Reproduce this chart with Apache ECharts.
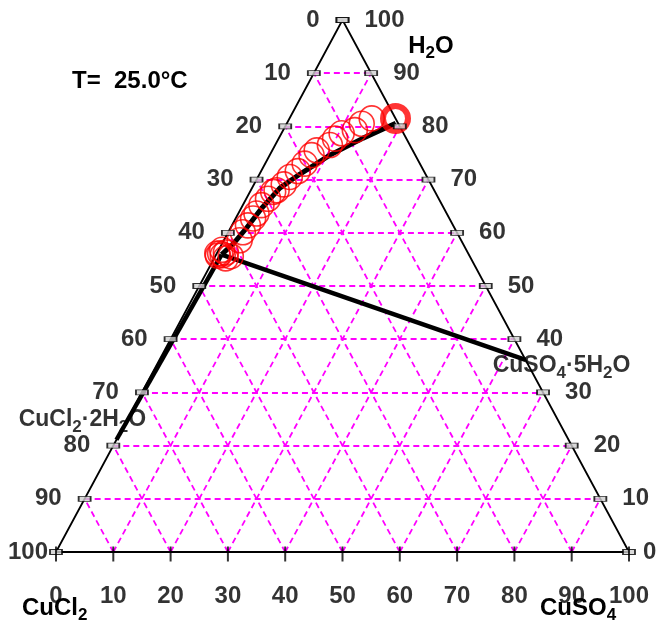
<!DOCTYPE html>
<html>
<head>
<meta charset="utf-8">
<script src="https://cdn.jsdelivr.net/npm/echarts/dist/echarts.min.js"></script>
<style>
html,body{margin:0;padding:0;background:#fff;}
#c{width:662px;height:630px;}
</style>
</head>
<body>
<div id="c"></div>
<script>
// ---------------- data ----------------
const tickValues = [0, 10, 20, 30, 40, 50, 60, 70, 80, 90, 100];
const bottomTickLabels = ['0', '10', '20', '30', '40', '50', '60', '70', '80', '90', '100']; // CuSO4 wt%
const leftTickLabels = ['0', '10', '20', '30', '40', '50', '60', '70', '80', '90', '100'];   // CuCl2 wt% (left edge)
const rightTickLabels = ['0', '10', '20', '30', '40', '50', '60', '70', '80', '90', '100'];  // H2O wt% (right edge)

// experimental saturated solutions (wt%)
const expCuCl2 = [4.15, 6.4, 8.2, 10.8, 12.45, 13.95, 16.75, 18.1, 20.1, 22.0, 23.95, 25.7, 27.5, 28.25, 29.8, 31.55, 33.2, 34.25, 35.8, 37.35, 38.65, 43.8, 43.3, 42.6, 42.2, 41.7, 43.0, 43.9, 42.8];
const expCuSO4 = [14.35, 13.1, 12.5, 10.5, 9.85, 9.55, 7.75, 7.3, 6.9, 6.4, 5.55, 5.2, 4.5, 4.05, 3.8, 3.25, 3.17, 3.05, 2.8, 2.55, 2.75, 0.1, 0.6, 0.6, 1.5, 2.7, 1.2, 0.4, 2.0];

// binary CuSO4-H2O solubility
const binCuCl2 = [0];
const binCuSO4 = [18.5];

// solubility curve (CuSO4·5H2O branch)
const curveCuCl2 = [0.4, 7.5, 14.9, 21.9, 26.75, 31.8, 36.3, 39.7, 43.15];
const curveCuSO4 = [19.0, 14.7, 10.5, 7.06, 4.85, 3.58, 2.8, 2.07, 0.95];

// solid phases
const solidNames = ['CuCl2·2H2O', 'CuSO4·5H2O'];
const solidCuCl2 = [78.9, 0];
const solidCuSO4 = [0, 63.9];

const vertexNames = ['H2O', 'CuCl2', 'CuSO4'];
const tempText = 'T=  25.0°C';

// ---------------- helpers ----------------
const FONT = '"Liberation Sans", Arial, sans-serif';
function tern(c, s) { const h = 100 - c - s; return [s + h / 2, h]; }
function fml(str) {
  const parts = str.split(/(?<=[A-Za-z])(\d+)/);
  let out = '';
  parts.forEach((p, i) => { if (p === '') return; out += (i % 2 ? '{s|' : '{n|') + p + '}'; });
  return out;
}
const noBorder = { textBorderWidth: 0, textBorderColor: 'transparent', textShadowBlur: 0 };
const richLabel = {
  n: Object.assign({ fontSize: 23, fontWeight: 'bold', fontFamily: FONT, color: '#000', lineHeight: 32 }, noBorder),
  s: Object.assign({ fontSize: 17, fontWeight: 'bold', fontFamily: FONT, color: '#000', lineHeight: 17, verticalAlign: 'bottom' }, noBorder)
};
const richGraphic = {
  n: { fontSize: 24, fontWeight: 'bold', fontFamily: FONT, fill: '#000', lineHeight: 32 },
  s: { fontSize: 17, fontWeight: 'bold', fontFamily: FONT, fill: '#000', lineHeight: 17, verticalAlign: 'bottom' }
};
const tickFont = Object.assign({ color: '#000', fontSize: 24, fontWeight: 'bold', fontFamily: FONT }, noBorder);

// grid lines
const gridLines = [];
tickValues.forEach(v => {
  if (v === 0 || v === 100) return;
  gridLines.push({ coords: [tern(100 - v, 0), tern(0, 100 - v)] });   // constant H2O
  gridLines.push({ coords: [tern(100 - v, v), tern(0, v)] });         // constant CuSO4
  gridLines.push({ coords: [tern(v, 100 - v), tern(v, 0)] });         // constant CuCl2
});

const inv = [curveCuCl2[curveCuCl2.length - 1], curveCuSO4[curveCuSO4.length - 1]];

const series = [
  {
    type: 'lines', coordinateSystem: 'cartesian2d', silent: true, z: 1,
    lineStyle: { color: '#ff00ff', width: 1.8, type: [6, 4], opacity: 1 },
    data: gridLines
  },
  {
    type: 'line', silent: true, z: 2, symbol: 'none',
    lineStyle: { color: '#000', width: 1.8 },
    data: [tern(100, 0), tern(0, 100), tern(0, 0), tern(100, 0)]
  },
  {
    type: 'line', silent: true, z: 3, symbol: 'none',
    lineStyle: { color: '#000', width: 5 },
    data: curveCuCl2.map((c, i) => tern(c, curveCuSO4[i]))
  }
];
solidNames.forEach((nm, i) => {
  series.push({
    type: 'line', silent: true, z: 3, symbol: 'none',
    lineStyle: { color: '#000', width: 4.5 },
    data: [tern(inv[0], inv[1]), tern(solidCuCl2[i], solidCuSO4[i])]
  });
});
series.push({
  type: 'scatter', silent: true, z: 5, symbol: 'circle', symbolSize: 25,
  itemStyle: { color: 'rgba(0,0,0,0)', borderColor: '#ff0000', borderWidth: 1.6 },
  data: expCuCl2.map((c, i) => tern(c, expCuSO4[i]))
});
series.push({
  type: 'scatter', silent: true, z: 5, symbol: 'circle', symbolSize: 25,
  itemStyle: { color: 'rgba(0,0,0,0)', borderColor: '#ff0000', borderWidth: 6 },
  data: binCuCl2.map((c, i) => tern(c, binCuSO4[i]))
});
// solid phase labels
const solidOffsets = [[-34, -20], [36, 6]];
series.push({
  type: 'scatter', silent: true, z: 6, symbolSize: 1,
  itemStyle: { color: 'rgba(0,0,0,0)' },
  data: solidNames.map((nm, i) => ({
    name: nm, value: tern(solidCuCl2[i], solidCuSO4[i]),
    label: { offset: solidOffsets[i] }
  })),
  label: Object.assign({ show: true, position: 'inside', align: 'center', verticalAlign: 'middle', color: '#000', formatter: p => fml(p.name), rich: richLabel }, noBorder)
});
// left ticks (CuCl2)
series.push({
  type: 'scatter', silent: true, z: 7, symbol: 'rect', symbolSize: [12, 5],
  itemStyle: { color: '#cfcfcf', borderColor: '#000', borderWidth: 1.2 },
  data: tickValues.map((v, i) => ({
    name: leftTickLabels[i], value: tern(v, 0),
    label: v === 100 ? { offset: [-8, 0] } : undefined
  })),
  label: Object.assign({ show: true, position: 'inside', align: 'right', verticalAlign: 'middle', offset: [-23, 0], formatter: '{b}' }, tickFont)
});
// right ticks (H2O)
series.push({
  type: 'scatter', silent: true, z: 7, symbol: 'rect', symbolSize: [12, 5],
  itemStyle: { color: '#cfcfcf', borderColor: '#000', borderWidth: 1.2 },
  data: tickValues.map((v, i) => ({
    name: rightTickLabels[i], value: tern(0, 100 - v),
    label: v === 0 ? { offset: [14, 0] } : undefined
  })),
  label: Object.assign({ show: true, position: 'inside', align: 'left', verticalAlign: 'middle', offset: [22, 0], formatter: '{b}' }, tickFont)
});
// bottom ticks (CuSO4)
series.push({
  type: 'scatter', silent: true, z: 7, symbol: 'rect', symbolSize: [2, 15], symbolOffset: [0, 2],
  itemStyle: { color: '#000' },
  data: tickValues.map((v, i) => ({ name: bottomTickLabels[i], value: tern(100 - v, v) })),
  label: Object.assign({ show: true, position: 'inside', align: 'center', verticalAlign: 'middle', offset: [0, 42], formatter: '{b}' }, tickFont)
});

const chart = echarts.init(document.getElementById('c'));
chart.setOption({
  animation: false,
  backgroundColor: '#fff',
  grid: { left: 56, right: 33, top: 20, bottom: 78 },
  xAxis: { type: 'value', min: 0, max: 100, show: false },
  yAxis: { type: 'value', min: 0, max: 100, show: false },
  series: series,
  graphic: [
    { type: 'text', x: 72, y: 81, style: { text: tempText, fill: '#000', font: 'bold 24px ' + FONT, align: 'left', verticalAlign: 'middle' } },
    { type: 'text', x: 431, y: 46, style: { text: fml(vertexNames[0]), rich: richGraphic, align: 'center', verticalAlign: 'middle' } },
    { type: 'text', x: 22, y: 608, style: { text: fml(vertexNames[1]), rich: richGraphic, align: 'left', verticalAlign: 'middle' } },
    { type: 'text', x: 540, y: 608, style: { text: fml(vertexNames[2]), rich: richGraphic, align: 'left', verticalAlign: 'middle' } }
  ]
});
</script>
</body>
</html>
